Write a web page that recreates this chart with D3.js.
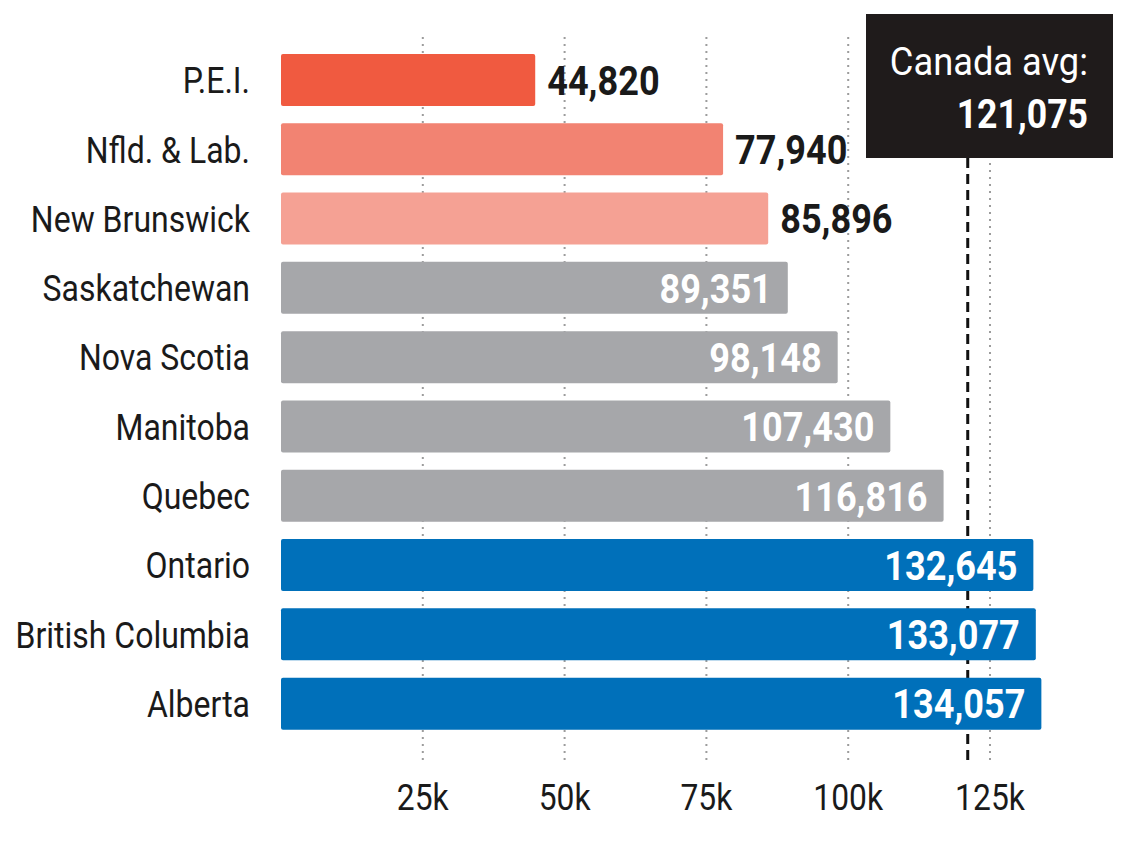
<!DOCTYPE html>
<html>
<head>
<meta charset="utf-8">
<script src="https://cdn.jsdelivr.net/npm/d3@7"></script>
<style>
  body { margin: 0; background: #fff; }
  text { font-family: "Roboto", sans-serif; }
</style>
</head>
<body>
<script>
var provinces = ["P.E.I.", "Nfld. & Lab.", "New Brunswick", "Saskatchewan", "Nova Scotia",
                 "Manitoba", "Quebec", "Ontario", "British Columbia", "Alberta"];
var incomes = [44820, 77940, 85896, 89351, 98148, 107430, 116816, 132645, 133077, 134057];
var barColors = ["#f05a40", "#f28372", "#f5a194", "#a6a7aa", "#a6a7aa",
                 "#a6a7aa", "#a6a7aa", "#0070ba", "#0070ba", "#0070ba"];
var tickValues = [25000, 50000, 75000, 100000, 125000];
var tickLabels = ["25k", "50k", "75k", "100k", "125k"];
var canadaAvg = 121075;

var w = 1128;
var h = 846;

var x = d3.scaleLinear().domain([0, 125000]).range([281, 990]);
var y = d3.scaleBand().domain(provinces).range([45.3, 738.3])
    .paddingInner(0.25).paddingOuter(0.125);

var svg = d3.select("body").append("svg")
    .attr("width", w)
    .attr("height", h);

// condensed look: squeeze the text horizontally around its anchor
function squeeze(sx) {
  return function(sel, px, py) {
    sel.attr("transform", function(d, i) {
      return "translate(" + px(d, i) + "," + py(d, i) + ") scale(" + sx + ",1)";
    });
  };
}

// dotted gridlines
svg.selectAll("line.grid")
  .data(tickValues)
  .enter()
  .append("line")
  .attr("class", "grid")
  .attr("x1", function(d) { return x(d); })
  .attr("x2", function(d) { return x(d); })
  .attr("y1", 37)
  .attr("y2", 760)
  .attr("stroke", "#9c9c9c")
  .attr("stroke-width", 2)
  .attr("stroke-dasharray", "2,5");

// canada average line (behind bars)
svg.append("line")
  .attr("x1", x(canadaAvg))
  .attr("x2", x(canadaAvg))
  .attr("y1", 158)
  .attr("y2", 765)
  .attr("stroke", "#111")
  .attr("stroke-width", 3)
  .attr("stroke-dasharray", "10,6");

// bars
svg.selectAll("rect.bar")
  .data(incomes)
  .enter()
  .append("rect")
  .attr("class", "bar")
  .attr("x", x(0))
  .attr("y", function(d, i) { return y(provinces[i]); })
  .attr("width", function(d) { return x(d) - x(0); })
  .attr("height", y.bandwidth())
  .attr("rx", 2)
  .attr("fill", function(d, i) { return barColors[i]; });

// province labels
svg.selectAll("text.cat")
  .data(provinces)
  .enter()
  .append("text")
  .attr("class", "cat")
  .text(function(d) { return d; })
  .attr("dy", "0.36em")
  .attr("text-anchor", "end")
  .attr("font-size", "37px")
  .attr("fill", "#1a1a1a")
  .call(squeeze(0.865), function() { return 250; },
        function(d) { return y(d) + y.bandwidth() / 2; });

// value labels: outside for the first three, inside otherwise
var fmt = d3.format(",");
svg.selectAll("text.val")
  .data(incomes)
  .enter()
  .append("text")
  .attr("class", "val")
  .text(function(d) { return fmt(d); })
  .attr("dy", "0.36em")
  .attr("text-anchor", function(d, i) { return i < 3 ? "start" : "end"; })
  .attr("font-size", "41px")
  .attr("font-weight", "bold")
  .attr("fill", function(d, i) { return i < 3 ? "#1a1a1a" : "#fff"; })
  .call(squeeze(0.88), function(d, i) { return i < 3 ? x(d) + 12 : x(d) - 16; },
        function(d, i) { return y(provinces[i]) + y.bandwidth() / 2; });

// x axis labels
svg.selectAll("text.tick")
  .data(tickValues)
  .enter()
  .append("text")
  .attr("class", "tick")
  .text(function(d, i) { return tickLabels[i]; })
  .attr("dy", "0.36em")
  .attr("text-anchor", "middle")
  .attr("font-size", "37px")
  .attr("fill", "#1a1a1a")
  .call(squeeze(0.86), function(d) { return x(d); }, function() { return 797; });

// canada average box
svg.append("rect")
  .attr("x", 866)
  .attr("y", 14)
  .attr("width", 247)
  .attr("height", 144)
  .attr("fill", "#1f1b1b");

svg.append("text")
  .text("Canada avg:")
  .attr("text-anchor", "end")
  .attr("font-size", "39px")
  .attr("fill", "#fff")
  .attr("transform", "translate(1088,75) scale(0.93,1)");

svg.append("text")
  .text(fmt(canadaAvg))
  .attr("text-anchor", "end")
  .attr("font-size", "40px")
  .attr("font-weight", "bold")
  .attr("fill", "#fff")
  .attr("transform", "translate(1088,128) scale(0.89,1)");
</script>
</body>
</html>
